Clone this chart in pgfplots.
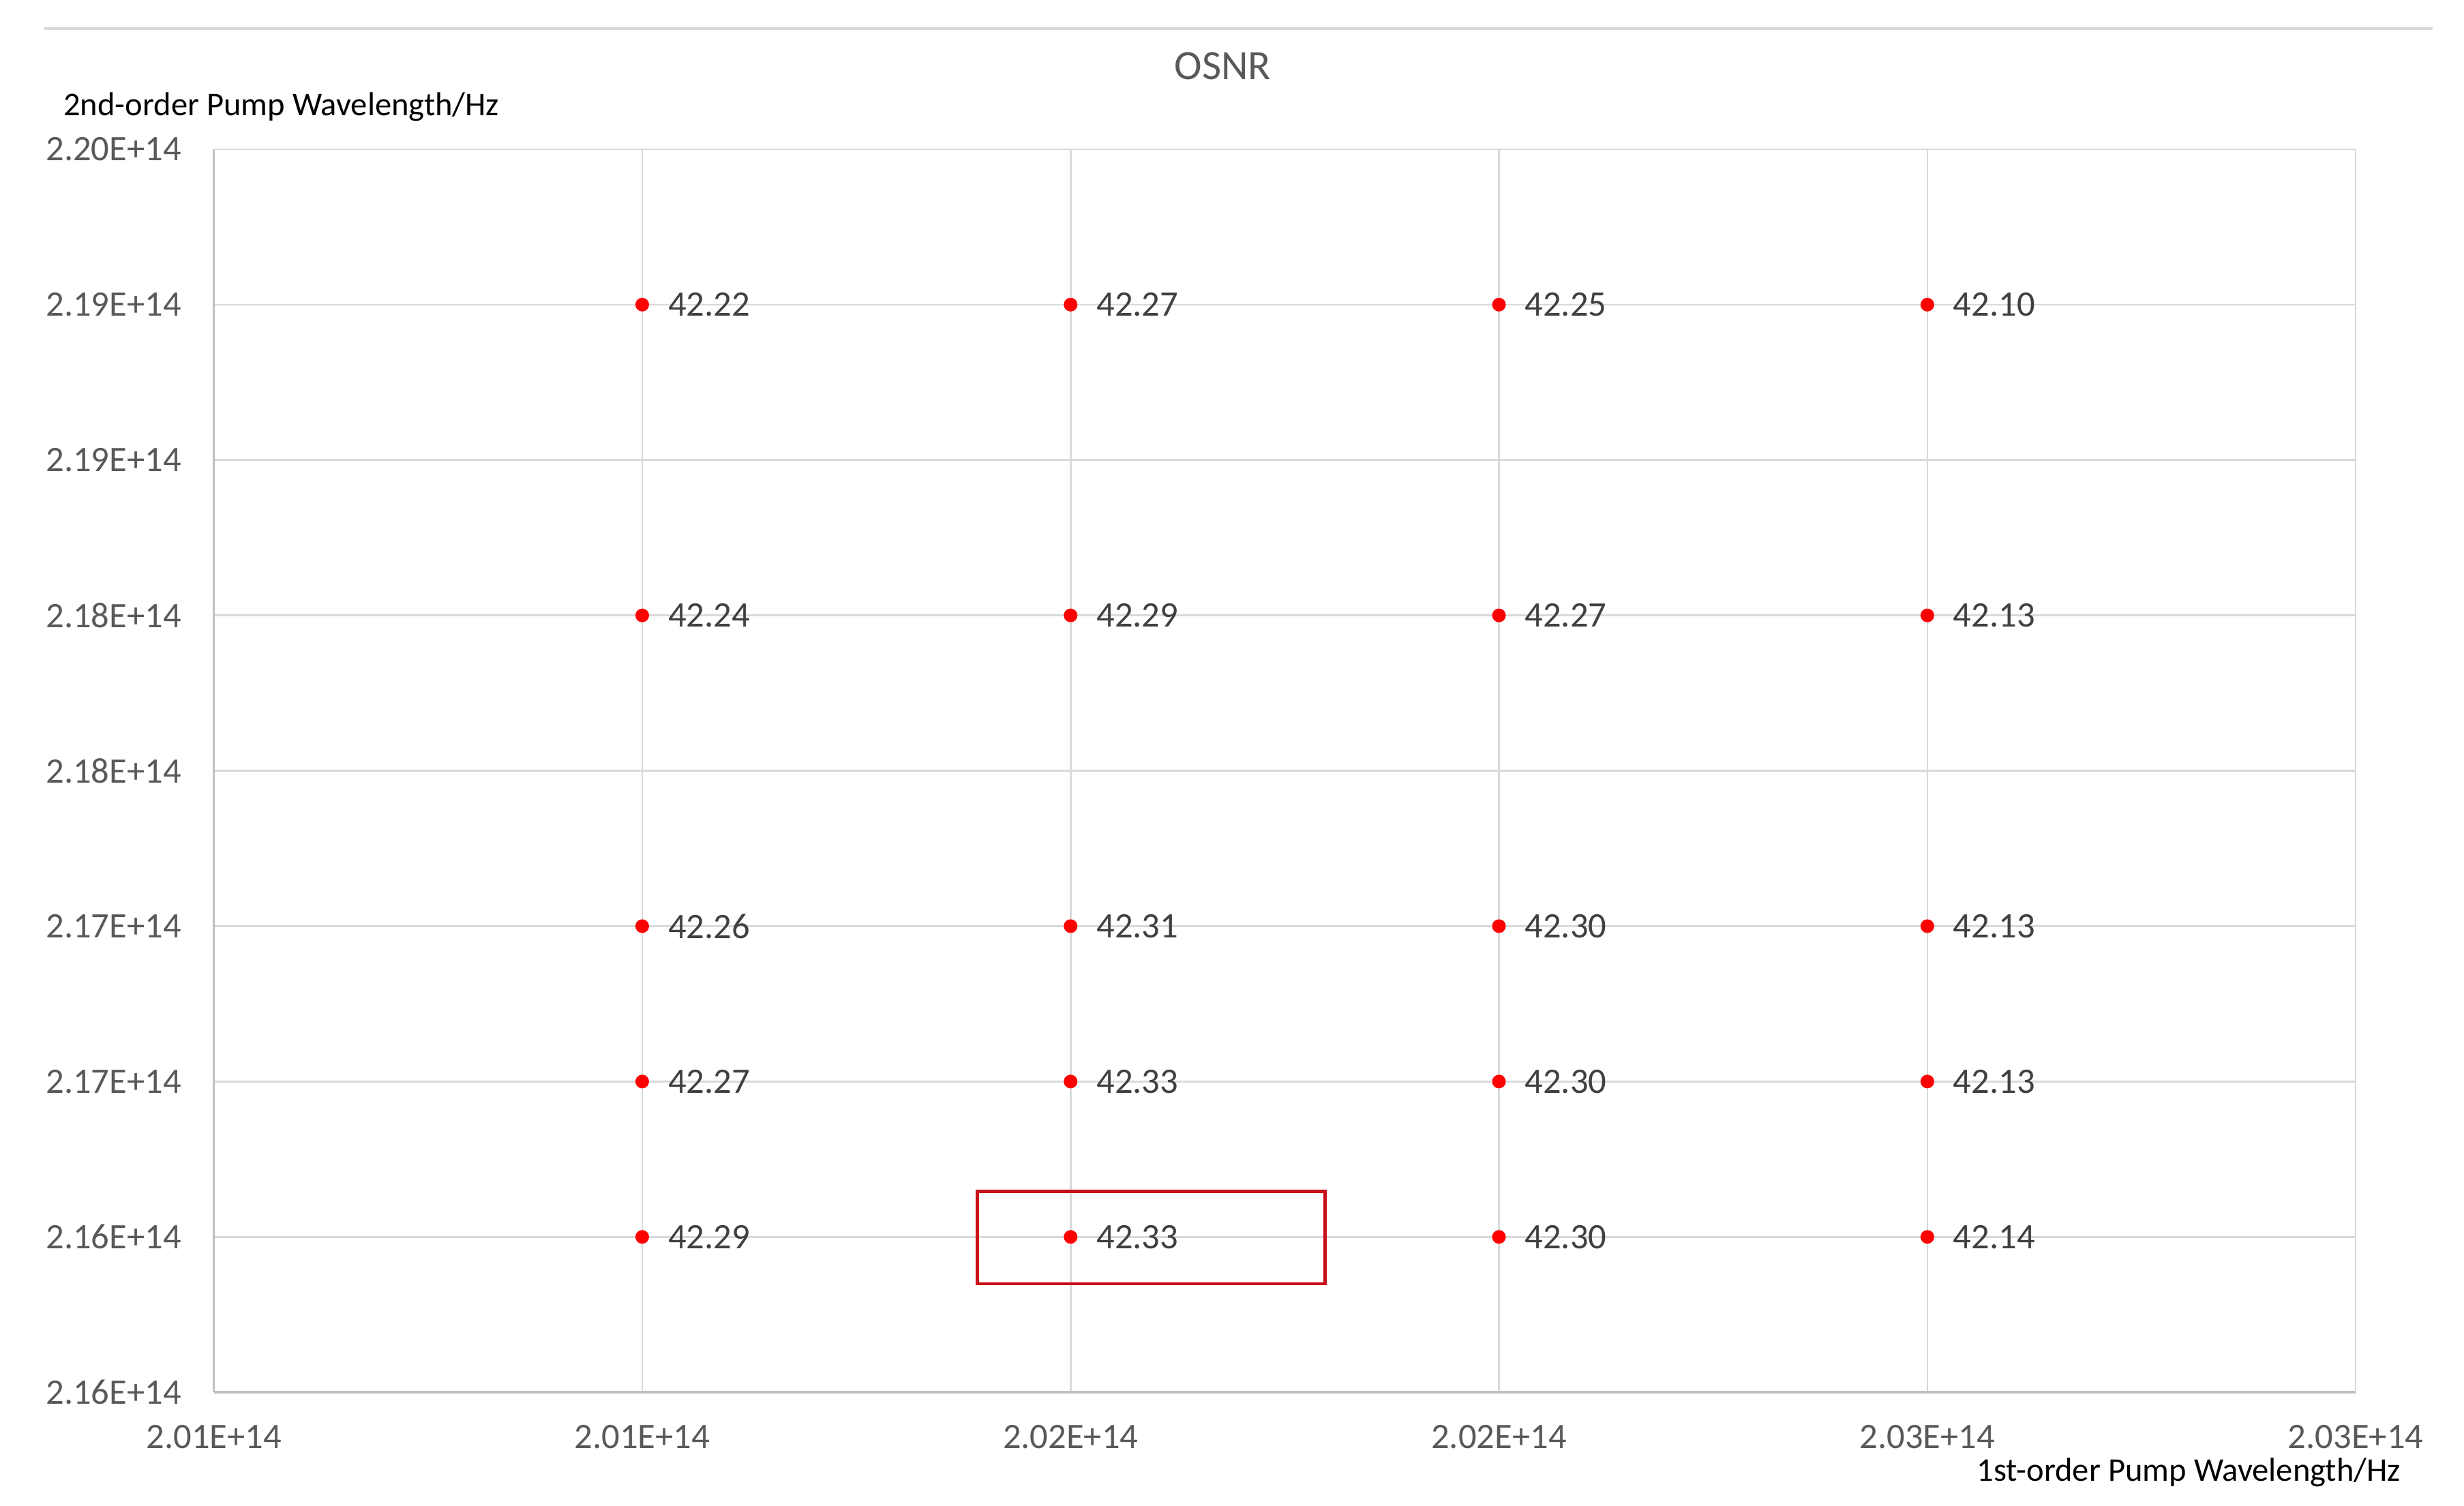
\documentclass[border=0pt]{standalone}
\usepackage{fontspec}
\setmainfont{Carlito}
\usepackage{pgfplots}
\pgfplotsset{compat=1.18}
\usepackage{pgfplotstable}
\definecolor{gridgray}{RGB}{217,217,217}
\definecolor{axisgray}{RGB}{191,191,191}
\definecolor{ticktext}{RGB}{89,89,89}
\definecolor{labeltext}{RGB}{64,64,64}
\definecolor{boxred}{RGB}{200,16,24}

% x: 1st-order pump (x1e14 Hz), y: 2nd-order pump (x1e14 Hz), osnr label
\pgfplotstableread{
x      y      osnr
2.010  2.190  42.22
2.010  2.180  42.24
2.010  2.170  42.26
2.010  2.165  42.27
2.010  2.160  42.29
2.015  2.190  42.27
2.015  2.180  42.29
2.015  2.170  42.31
2.015  2.165  42.33
2.015  2.160  42.33
2.020  2.190  42.25
2.020  2.180  42.27
2.020  2.170  42.30
2.020  2.165  42.30
2.020  2.160  42.30
2.025  2.190  42.10
2.025  2.180  42.13
2.025  2.170  42.13
2.025  2.165  42.13
2.025  2.160  42.14
}\osnrdata

\begin{document}
\begin{tikzpicture}
  \useasboundingbox (0,0) rectangle (721.3pt,440.7pt);
  % thin rule above the title
  \draw[gridgray,line width=0.8pt] (12.9pt,432.4pt) -- (712.1pt,432.4pt);
  \node[font=\fontsize{12.2}{14}\selectfont,text=ticktext] at (357.9pt,421.4pt) {OSNR};
  \node[anchor=west,inner sep=0pt,font=\fontsize{9.7}{11}\selectfont] at (18.4pt,409.4pt)
    {2nd-order Pump Wavelength/Hz};
  \node[anchor=east,inner sep=0pt,font=\fontsize{9.7}{11}\selectfont] at (702.9pt,9.6pt)
    {1st-order Pump Wavelength/Hz};

  \begin{axis}[
    at={(62.6pt,33.1pt)}, anchor=south west,
    width=627pt, height=363.9pt, scale only axis,
    xmin=2.005, xmax=2.030, ymin=2.155, ymax=2.195,
    xtick={2.005,2.010,2.015,2.020,2.025,2.030},
    xticklabels={2.01E+14,2.01E+14,2.02E+14,2.02E+14,2.03E+14,2.03E+14},
    ytick={2.155,2.160,2.165,2.170,2.175,2.180,2.185,2.190,2.195},
    yticklabels={2.16E+14,2.16E+14,2.17E+14,2.17E+14,2.18E+14,2.18E+14,2.19E+14,2.19E+14,2.20E+14},
    major tick length=0pt,
    ticklabel style={font=\fontsize{10.5}{12}\selectfont,text=ticktext},
    xticklabel style={yshift=-6pt},
    yticklabel style={xshift=-6pt},
    grid=major,
    grid style={gridgray,line width=0.5pt},
    axis line style={gridgray,line width=0.5pt},
    axis x line*=bottom, axis y line*=left,
    x axis line style={axisgray,line width=0.7pt,-},
    y axis line style={axisgray,line width=0.7pt,-},
    clip=false,
  ]
    \draw[gridgray,line width=0.5pt] (axis cs:2.005,2.195) -- (axis cs:2.030,2.195) -- (axis cs:2.030,2.155);
    \addplot[only marks,mark=*,mark size=1.8pt,color=red,
      point meta=explicit symbolic,
      nodes near coords,
      nodes near coords style={anchor=west,inner sep=0pt,xshift=7.4pt,
        font=\fontsize{10.5}{12}\selectfont,text=labeltext}]
      table[x=x,y=y,meta=osnr]{\osnrdata};
    % highlight of the best point
    \draw[boxred,line width=0.9pt] (axis cs:2.01391,2.15849) rectangle (axis cs:2.01797,2.16147);
  \end{axis}
\end{tikzpicture}
\end{document}
